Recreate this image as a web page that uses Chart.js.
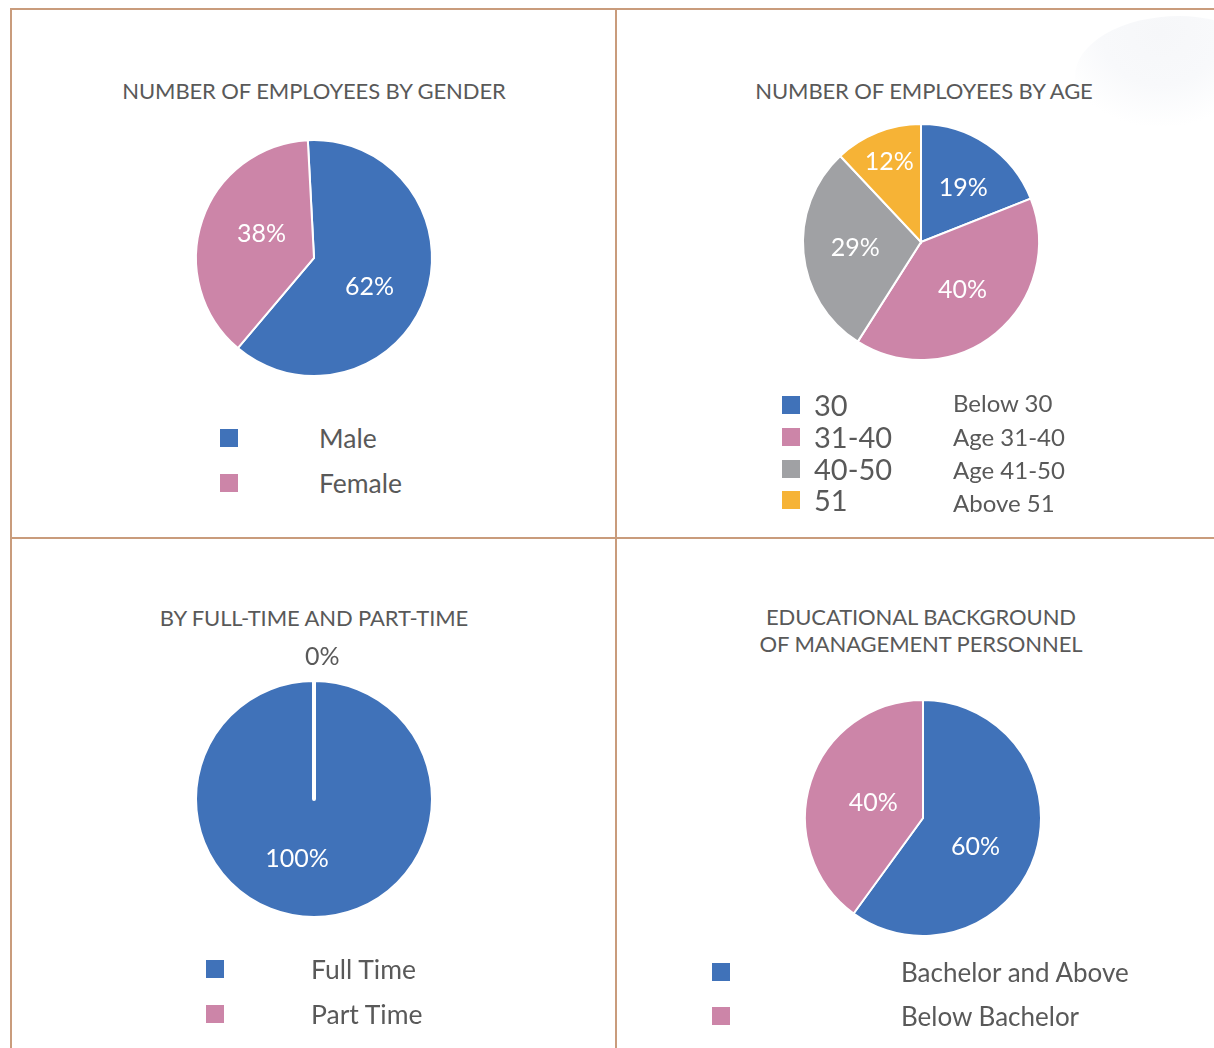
<!DOCTYPE html>
<html>
<head>
<meta charset="utf-8">
<script src="https://cdn.jsdelivr.net/npm/chart.js@4.4.0/dist/chart.umd.min.js"></script>
<style>
  html, body { margin: 0; padding: 0; background: #fff; }
  body { width: 1214px; height: 1048px; position: relative; overflow: hidden; font-family: Lato, "Open Sans", sans-serif; color: #595959; }
  .line { position: absolute; background: #c99c7c; }
  .title { position: absolute; transform: translate(-50%, -50%); white-space: nowrap; font-size: 22px; line-height: 27px; text-align: center; letter-spacing: -0.1px; }
  .sw { position: absolute; width: 18px; height: 18px; }
  .lt { position: absolute; transform: translateY(-50%); white-space: nowrap; line-height: 30px; }
  canvas { position: absolute; }
  .hill { position: absolute; left: 1075px; top: 16px; width: 190px; height: 110px; border-radius: 55% 45% 0 0;
          background: radial-gradient(ellipse at 45% 15%, #f6f7f9 0%, #f8f9fb 40%, rgba(255,255,255,0) 72%); }
</style>
</head>
<body>
<div class="hill"></div>
<div class="line" style="left:10px; top:8px; width:1204px; height:2px;"></div>
<div class="line" style="left:10px; top:8px; width:2px; height:1040px;"></div>
<div class="line" style="left:615px; top:8px; width:2px; height:1040px;"></div>
<div class="line" style="left:10px; top:537px; width:1204px; height:2px;"></div>

<div class="title" style="left:314px; top:90px;">NUMBER OF EMPLOYEES BY GENDER</div>
<div class="title" style="left:924px; top:90px;">NUMBER OF EMPLOYEES BY AGE</div>
<div class="title" style="left:314px; top:617px;">BY FULL-TIME AND PART-TIME</div>
<div class="title" style="left:921px; top:630px;">EDUCATIONAL BACKGROUND<br>OF MANAGEMENT PERSONNEL</div>

<canvas id="genderChart" width="300" height="300" style="left:164px; top:108px;"></canvas>
<canvas id="ageChart" width="300" height="300" style="left:771px; top:92px;"></canvas>
<canvas id="timeChart" width="320" height="320" style="left:154px; top:639px;"></canvas>
<canvas id="eduChart" width="300" height="300" style="left:773px; top:668px;"></canvas>

<div id="legends"></div>

<script>
// data
var genderLabels = ["Male", "Female"];
var genderValues = [62, 38];

var ageLabels = ["30", "31-40", "40-50", "51"];
var ageNotes = ["Below 30", "Age 31-40", "Age 41-50", "Above 51"];
var ageValues = [19, 40, 29, 12];

var timeLabels = ["Full Time", "Part Time"];
var timeValues = [100, 0];

var eduLabels = ["Bachelor and Above", "Below Bachelor"];
var eduValues = [60, 40];

var blue = "#4072b9", pink = "#cc85a8", grey = "#a0a1a4", gold = "#f6b336";

// percent labels drawn on each slice
var sliceLabels = {
    id: "sliceLabels",
    afterDatasetsDraw: function (chart, args, opts) {
        var ctx = chart.ctx;
        var meta = chart.getDatasetMeta(0);
        var values = chart.data.datasets[0].data;
        var total = values.reduce(function (a, b) { return a + b; }, 0);
        ctx.save();
        ctx.textAlign = "center";
        ctx.textBaseline = "middle";
        ctx.font = "25px Lato, 'Open Sans', sans-serif";
        meta.data.forEach(function (arc, i) {
            var p = (opts.pos && opts.pos[i]) || {r: 0.52, a: 0};
            var mid = (arc.startAngle + arc.endAngle) / 2 + p.a * Math.PI / 180;
            var r = values[i] === 0 ? arc.outerRadius + 23 : arc.outerRadius * p.r;
            ctx.fillStyle = values[i] === 0 ? "#595959" : "#ffffff";
            var txt = Math.round(values[i] / total * 100) + "%";
            ctx.fillText(txt, arc.x + Math.cos(mid) * r, arc.y + Math.sin(mid) * r);
        });
        ctx.restore();
    }
};

function makePie(id, labels, values, colors, extra) {
    extra = extra || {};
    return new Chart(document.getElementById(id), {
        type: "pie",
        data: {
            labels: labels,
            datasets: [{
                data: values,
                backgroundColor: colors,
                borderColor: "#ffffff",
                borderWidth: extra.borderWidth || 2,
                borderJoinStyle: extra.join || "miter",
                radius: extra.radius || 118
            }]
        },
        options: {
            responsive: false,
            animation: false,
            events: [],
            rotation: extra.rotation || 0,
            layout: {padding: 0},
            plugins: {
                legend: {display: false},
                tooltip: {enabled: false},
                sliceLabels: {pos: extra.pos}
            }
        },
        plugins: [sliceLabels]
    });
}

makePie("genderChart", genderLabels, genderValues, [blue, pink], {
    rotation: -3,
    pos: [{r: 0.53, a: 9}, {r: 0.49, a: 6}]
});
makePie("ageChart", ageLabels, ageValues, [blue, pink, grey, gold], {
    pos: [{r: 0.58, a: 4}, {r: 0.54, a: -1}, {r: 0.56, a: 0}, {r: 0.73, a: 0}]
});
makePie("timeChart", timeLabels, timeValues, [blue, pink], {
    borderWidth: 4, join: "round", radius: 119,
    pos: [{r: 0.52, a: 16}, {r: 0, a: 3.3}]
});
makePie("eduChart", eduLabels, eduValues, [blue, pink], {
    pos: [{r: 0.51, a: 11}, {r: 0.44, a: -1}]
});

// legends
var legendBox = document.getElementById("legends");
function addLegend(labels, colors, swX, textX, rows, fontSize) {
    labels.forEach(function (label, i) {
        var sw = document.createElement("div");
        sw.className = "sw";
        sw.style.left = swX + "px";
        sw.style.top = (rows[i] - 9) + "px";
        sw.style.background = colors[i];
        legendBox.appendChild(sw);
        var t = document.createElement("div");
        t.className = "lt";
        t.style.left = textX + "px";
        t.style.top = rows[i] + "px";
        t.style.fontSize = fontSize + "px";
        t.textContent = label;
        legendBox.appendChild(t);
    });
}
function addNotes(notes, x, rows, fontSize) {
    notes.forEach(function (note, i) {
        var t = document.createElement("div");
        t.className = "lt";
        t.style.left = x + "px";
        t.style.top = rows[i] + "px";
        t.style.fontSize = fontSize + "px";
        t.textContent = note;
        legendBox.appendChild(t);
    });
}
addLegend(genderLabels, [blue, pink], 220, 319, [438, 483], 26.5);
addLegend(ageLabels, [blue, pink, grey, gold], 782, 814, [405, 437, 469, 500], 29);
addNotes(ageNotes, 953, [403, 437, 470, 503], 24);
addLegend(timeLabels, [blue, pink], 206, 311, [969, 1014], 26.5);
addLegend(eduLabels, [blue, pink], 712, 901, [972, 1016], 26);
</script>
</body>
</html>
